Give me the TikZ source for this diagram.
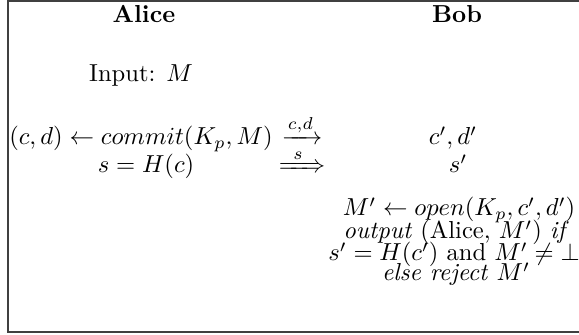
\documentclass[tikz,border=0pt]{standalone}
\usepackage{amsmath}
\usepackage{mathtools}
\begin{document}
\begin{tikzpicture}[x=0.407pt,y=-0.407pt,
  txt/.style={anchor=base,inner sep=0pt,outer sep=0pt},
  frameline/.style={line width=0.5pt,draw=black!75}]
\useasboundingbox (0,0) rectangle (579,335);
\draw[frameline] (579,1) -- (8,1) -- (8,332) -- (579,332);
% headers
\node[txt] (alice) at (144,23) {\textbf{Alice}};
\node[txt] (bob) at (457,23) {\textbf{Bob}};
\node[txt] (input) at (141,82) {Input: $M$};
% row 1
\node[txt] (commit) at (141,145) {$(c,d) \leftarrow commit(K_p, M)$};
\node[txt] (arr1) at (302,145) {$\xrightarrow{c,d}$};
\node[txt] (cd) at (453,145) {$c', d'$};
% row 2
\node[txt] (hash) at (146,173) {$s = H(c)$};
\node[txt] (arr2) at (302,173) {$\xRightarrow{\hphantom{c}s\hphantom{c}}$};
\node[txt] (sp) at (458,173) {$s'$};
% Bob's verification
\node[txt] (open) at (459,216) {$M' \leftarrow open(K_p, c', d')$};
\node[txt] (out) at (456,239) {\textit{output} (Alice, $M'$) \textit{if}};
\node[txt] (cond) at (454,261) {$s' = H(c')$ and $M' \neq \bot$};
\node[txt] (rej) at (456,281) {\textit{else reject} $M'$};
\end{tikzpicture}
\end{document}
